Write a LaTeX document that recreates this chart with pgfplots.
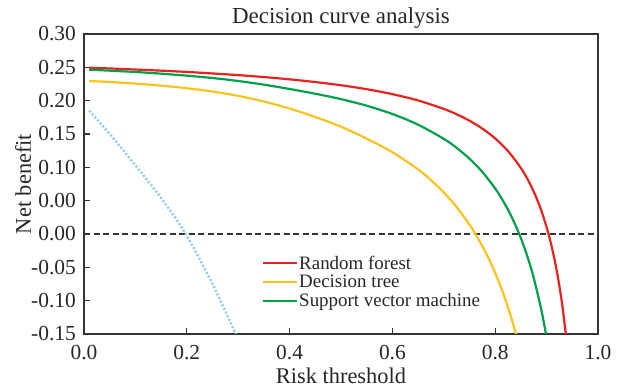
\documentclass[border=0pt]{standalone}
\usepackage{fontspec}
\setmainfont{Liberation Serif}
\usepackage{pgfplots}
\pgfplotsset{compat=1.18}
\definecolor{rfred}{RGB}{230,35,30}
\definecolor{dtyel}{RGB}{250,195,30}
\definecolor{svmgreen}{RGB}{0,160,75}
\definecolor{allblue}{RGB}{140,205,240}
\definecolor{axgray}{RGB}{51,51,51}
\begin{document}
\begin{tikzpicture}
\useasboundingbox (0,0) rectangle (622bp,390bp);
\begin{axis}[
  at={(84bp,56bp)}, anchor=south west,
  scale only axis, width=514bp, height=300bp,
  xmin=0, xmax=1, ymin=-0.15, ymax=0.30,
  axis line style={axgray, line width=1.3bp},
  tick style={axgray, line width=1.2bp},
  major tick length=6bp,
  tick align=inside,
  xtick pos=bottom, ytick pos=left,
  xtick={0,0.2,0.4,0.6,0.8,1.0},
  xticklabels={0.0,0.2,0.4,0.6,0.8,1.0},
  ytick={-0.15,-0.10,-0.05,0,0.05,0.10,0.15,0.20,0.25,0.30},
  yticklabels={-0.15,-0.10,-0.05,0.00,0.00,0.10,0.15,0.20,0.25,0.30},
  ticklabel style={font=\fontsize{21.5}{24}\selectfont, text=black!85},
  xticklabel style={anchor=base, yshift=-26bp, inner sep=0pt},
  yticklabel style={anchor=east, xshift=-8bp, inner sep=0pt},
  title={Decision curve analysis},
  title style={at={(axis description cs:0.5,1)}, anchor=base, yshift=5bp, font=\fontsize{23}{26}\selectfont, text=black!85},
  xlabel={Risk threshold},
  xlabel style={at={(axis description cs:0.5,0)}, anchor=base, yshift=-49bp, font=\fontsize{22.5}{26}\selectfont, text=black!85},
  ylabel={Net benefit},
  ylabel style={at={(axis description cs:0,0.5)}, anchor=base, rotate=0, yshift=53bp, font=\fontsize{22.5}{26}\selectfont, text=black!85},
  legend style={at={(axis description cs:0.346,0.265)}, anchor=north west, draw=none, fill=none,
    font=\fontsize{19}{21}\selectfont, text=black!85, row sep=2.5bp, inner sep=0pt,
    nodes={inner sep=1bp}},
  legend cell align=left,
  legend image code/.code={\draw[#1, line width=2.2bp] (0bp,0bp) -- (28bp,0bp); \path (0bp,0bp) -- (34bp,0bp);},
]
\addplot[black!80, line width=1.2bp, dash pattern=on 6bp off 3.5bp, forget plot] coordinates {(0,0) (1,0)};
\addplot[allblue, line width=2.4bp, dash pattern=on 2bp off 2bp, smooth, forget plot] coordinates {
(0.0103,0.185) (0.05,0.150) (0.10,0.103) (0.15,0.054) (0.198,0.0) (0.25,-0.075) (0.294,-0.148) (0.297,-0.155)};
\addplot[rfred, line width=2.2bp, smooth] coordinates {
(0.01,0.2494) (0.05,0.2483) (0.10,0.2467) (0.15,0.2450) (0.20,0.2431) (0.25,0.2408) (0.30,0.2383)
(0.35,0.2354) (0.40,0.2320) (0.45,0.2279) (0.50,0.2231) (0.55,0.2172) (0.60,0.2098) (0.65,0.2003)
(0.70,0.1876) (0.725,0.1796) (0.75,0.1699) (0.775,0.1581) (0.80,0.1433) (0.825,0.1243) (0.85,0.0990)
(0.8625,0.0828) (0.875,0.0635) (0.8875,0.0399) (0.90,0.0103)
(0.91,-0.0192) (0.92,-0.0562) (0.93,-0.1038) (0.94,-0.1671)};
\addlegendentry{Random forest}
\addplot[dtyel, line width=2.2bp, smooth] coordinates {
(0.01,0.2295) (0.05,0.2280) (0.10,0.2256) (0.15,0.2225) (0.20,0.2187) (0.25,0.2137) (0.30,0.2072)
(0.35,0.1987) (0.40,0.1882) (0.45,0.1755) (0.50,0.1610) (0.55,0.1430) (0.60,0.1227) (0.65,0.0969)
(0.675,0.0809) (0.70,0.0623) (0.725,0.0404) (0.75,0.0140) (0.7625,-0.0013) (0.775,-0.0182) (0.7875,-0.0372)
(0.80,-0.0585) (0.81,-0.0776) (0.82,-0.0988) (0.83,-0.1224) (0.84,-0.1491) (0.845,-0.1638)};
\addlegendentry{Decision tree}
\addplot[svmgreen, line width=2.2bp, smooth] coordinates {
(0.01,0.2465) (0.05,0.2450) (0.10,0.2430) (0.15,0.2405) (0.20,0.2375) (0.25,0.2340) (0.30,0.2295)
(0.35,0.2240) (0.40,0.2175) (0.45,0.2104) (0.50,0.2023) (0.55,0.1924) (0.60,0.1800) (0.65,0.1640)
(0.70,0.1427) (0.725,0.1292) (0.75,0.1129) (0.775,0.0931) (0.80,0.0682) (0.8125,0.0533) (0.825,0.0363)
(0.8375,0.0166) (0.85,-0.0063) (0.8625,-0.0334) (0.875,-0.0659) (0.89,-0.1147) (0.90,-0.1553)};
\addlegendentry{Support vector machine}
\end{axis}
\end{tikzpicture}
\end{document}
